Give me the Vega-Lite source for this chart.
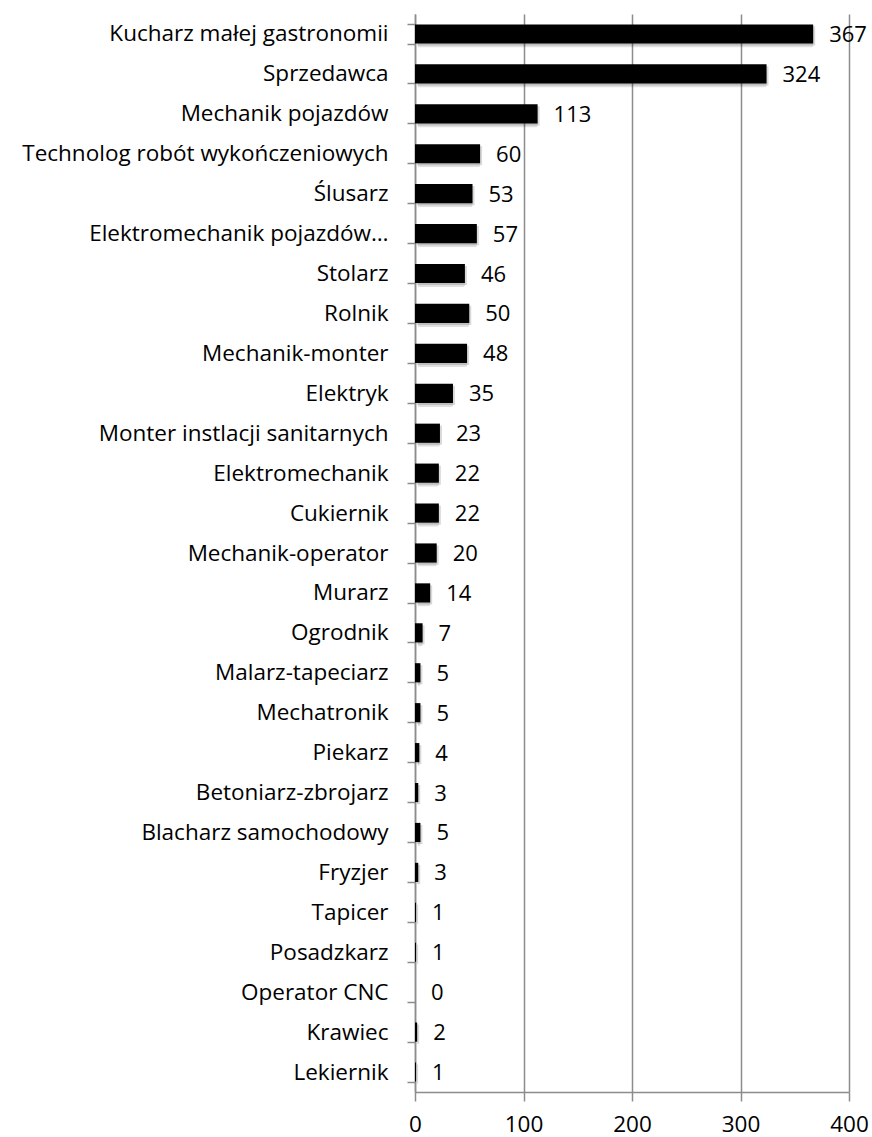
{
  "$schema": "https://vega.github.io/schema/vega-lite/v6.json",
  "width": 434,
  "height": 1078,
  "autosize": {"type": "none"},
  "padding": {"left": 415, "top": 14, "right": 23, "bottom": 45},
  "background": "white",
  "config": {
    "view": {"stroke": null},
    "font": "Open Sans",
    "axis": {"labelFont": "Open Sans", "labelFontSize": 22.5, "labelColor": "black"}
  },
  "data": {
    "values": [
      {"zawod": "Kucharz małej gastronomii", "n": 367},
      {"zawod": "Sprzedawca", "n": 324},
      {"zawod": "Mechanik pojazdów", "n": 113},
      {"zawod": "Technolog robót wykończeniowych", "n": 60},
      {"zawod": "Ślusarz", "n": 53},
      {"zawod": "Elektromechanik pojazdów…", "n": 57},
      {"zawod": "Stolarz", "n": 46},
      {"zawod": "Rolnik", "n": 50},
      {"zawod": "Mechanik-monter", "n": 48},
      {"zawod": "Elektryk", "n": 35},
      {"zawod": "Monter instlacji sanitarnych", "n": 23},
      {"zawod": "Elektromechanik", "n": 22},
      {"zawod": "Cukiernik", "n": 22},
      {"zawod": "Mechanik-operator", "n": 20},
      {"zawod": "Murarz", "n": 14},
      {"zawod": "Ogrodnik", "n": 7},
      {"zawod": "Malarz-tapeciarz", "n": 5},
      {"zawod": "Mechatronik", "n": 5},
      {"zawod": "Piekarz", "n": 4},
      {"zawod": "Betoniarz-zbrojarz", "n": 3},
      {"zawod": "Blacharz samochodowy", "n": 5},
      {"zawod": "Fryzjer", "n": 3},
      {"zawod": "Tapicer", "n": 1},
      {"zawod": "Posadzkarz", "n": 1},
      {"zawod": "Operator CNC", "n": 0},
      {"zawod": "Krawiec", "n": 2},
      {"zawod": "Lekiernik", "n": 1}
    ]
  },
  "encoding": {
    "y": {
      "field": "zawod", "type": "nominal", "sort": null,
      "scale": {"paddingInner": 0.52, "paddingOuter": 0.26},
      "axis": {
        "title": null, "tickBand": "extent", "tickSize": 8, "tickColor": "#8c8c8c",
        "domainColor": "#8c8c8c", "domainWidth": 1.5, "tickWidth": 1.5,
        "labelPadding": 19, "labelLimit": 420, "grid": false
      }
    },
    "x": {
      "field": "n", "type": "quantitative",
      "scale": {"domain": [0, 400], "nice": false},
      "axis": {
        "title": null, "values": [0, 100, 200, 300, 400], "tickSize": 9,
        "tickColor": "#8c8c8c", "domainColor": "#8c8c8c", "domainWidth": 1.5, "tickWidth": 1.5,
        "grid": true, "gridColor": "#8c8c8c", "gridWidth": 1.5,
        "labelBaseline": "alphabetic", "labelPadding": 30,
        "labelFlush": false, "labelOverlap": false
      }
    }
  },
  "layer": [
    {"mark": {"type": "bar", "color": "#000000", "opacity": 0.12, "xOffset": 3, "yOffset": 4, "cornerRadius": 2}},
    {"mark": {"type": "bar", "color": "#000000", "opacity": 0.15, "xOffset": 2, "yOffset": 2}},
    {"mark": {"type": "bar", "color": "#000000"}},
    {"mark": {"type": "text", "align": "left", "baseline": "middle", "dx": 16, "dy": 1, "fontSize": 22, "font": "Open Sans", "color": "black"},
     "encoding": {"text": {"field": "n", "type": "quantitative"}}}
  ]
}
